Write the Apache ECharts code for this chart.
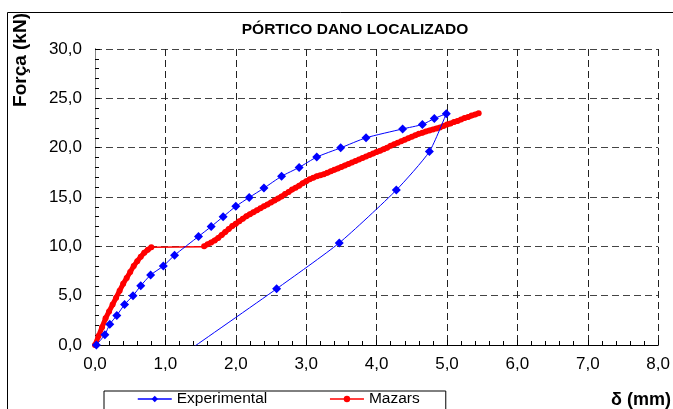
<!DOCTYPE html>
<html><head><meta charset="utf-8">
<script src="https://cdn.jsdelivr.net/npm/echarts@6/dist/echarts.min.js"></script>
<style>html,body{margin:0;padding:0;background:#fff}#c{width:673px;height:409px}</style>
</head><body><div id="c"></div>
<script>
// Experimental (loading + unloading)
const expX = [0.02,0.14,0.21,0.31,0.42,0.54,0.65,0.79,0.97,1.13,1.47,1.65,1.82,2.00,2.19,2.40,2.65,2.90,3.15,3.49,3.85,4.37,4.65,4.82,4.99,4.75,4.28,3.47,2.58,1.38];
const expY = [0.0,1.05,2.1,3.0,4.1,5.0,6.0,7.1,8.0,9.1,11.0,12.0,13.0,14.05,14.95,15.9,17.1,18.0,19.05,19.98,21.0,21.9,22.35,22.95,23.45,19.6,15.7,10.35,5.7,-0.3];
// Mazars: loading branch
const mzLoadX = [0.00,0.05,0.10,0.15,0.20,0.25,0.30,0.35,0.40,0.45,0.50,0.55,0.60,0.65,0.70,0.75,0.80];
const mzLoadY = [0.0,0.9,1.8,2.7,3.4,4.1,4.8,5.5,6.2,6.8,7.4,8.0,8.5,8.95,9.35,9.65,9.9];
// Mazars: plateau
const mzPlatX = [0.80,1.55];
const mzPlatY = [9.9,9.95];
// Mazars: post-plateau branch
const mzPostX = [1.55,1.60,1.65,1.70,1.75,1.80,1.85,1.90,1.95,2.00,2.05,2.10,2.15,2.20,2.25,2.30,2.35,2.40,2.45,2.50,2.55,2.60,2.65,2.70,2.75,2.80,2.85,2.90,2.95,3.00,3.05,3.10,3.15,3.20,3.25,3.30,3.35,3.40,3.45,3.50,3.55,3.60,3.65,3.70,3.75,3.80,3.85,3.90,3.95,4.00,4.05,4.10,4.15,4.20,4.25,4.30,4.35,4.40,4.45,4.50,4.55,4.60,4.65,4.70,4.75,4.80,4.85,4.90,4.95,5.00,5.05,5.10,5.15,5.20,5.25,5.30,5.35,5.40,5.45];
const mzPostY = [10.0,10.2,10.4,10.6,10.85,11.15,11.45,11.75,12.05,12.3,12.55,12.8,13.05,13.25,13.45,13.65,13.85,14.05,14.25,14.45,14.65,14.85,15.05,15.3,15.5,15.75,15.95,16.15,16.4,16.6,16.8,16.95,17.1,17.2,17.3,17.45,17.6,17.75,17.9,18.05,18.2,18.35,18.5,18.65,18.8,18.95,19.1,19.25,19.4,19.55,19.7,19.85,20.0,20.2,20.35,20.5,20.65,20.8,20.95,21.1,21.25,21.4,21.5,21.65,21.75,21.85,21.95,22.05,22.2,22.35,22.45,22.6,22.7,22.85,23.0,23.1,23.25,23.35,23.5];

const xMin = 0, xMax = 8, xStep = 1;
const yMin = 0, yMax = 30, yStep = 5;
const titleText = 'PÓRTICO DANO LOCALIZADO';
const yName = 'Força (kN)';
const xName = 'δ (mm)';

const zip = (a, b) => a.map((v, i) => [v, b[i]]);
const fmt = v => v.toFixed(1).replace('.', ',');
const FONT = 'Liberation Sans, Arial, sans-serif';
const RED = '#ff0000', BLUE = '#0000ff';

const chart = echarts.init(document.getElementById('c'), null, {renderer: 'canvas'});
chart.setOption({
  animation: false,
  backgroundColor: '#fff',
  title: {text: titleText, left: 350, top: 17, textAlign: 'center',
    textStyle: {fontFamily: FONT, fontSize: 15.5, fontWeight: 'bold', color: '#000'}},
  grid: {left: 95, right: 13, top: 49, bottom: 64, containLabel: false},
  legend: {
    left: 104, top: 391, orient: 'horizontal',
    borderColor: '#000', borderWidth: 1, padding: [0, 26, 20, 33],
    itemWidth: 34, itemHeight: 8, itemGap: 62,
    textStyle: {fontFamily: FONT, fontSize: 15.5, color: '#000'},
    data: [
      {name: 'Experimental', itemStyle: {color: BLUE}, lineStyle: {color: BLUE, width: 1.5}},
      {name: 'Mazars', itemStyle: {color: RED}, lineStyle: {color: RED, width: 1.5}}
    ]
  },
  xAxis: {
    type: 'value', min: xMin, max: xMax, interval: xStep,
    axisLine: {show: true, onZero: false, lineStyle: {color: '#000', width: 1}},
    axisTick: {show: true, inside: true, length: 5, lineStyle: {color: '#000'}},
    minorTick: {show: true, splitNumber: 5, length: 4, lineStyle: {color: '#000'}},
    axisLabel: {formatter: fmt, margin: 11, fontFamily: FONT, fontSize: 17, color: '#000'},
    splitLine: {show: true, lineStyle: {color: '#222', type: [7, 4], width: 1}}
  },
  yAxis: [{
    type: 'value', min: yMin, max: yMax, interval: yStep,
    axisLine: {show: true, onZero: false, lineStyle: {color: '#000', width: 1}},
    axisTick: {show: true, inside: true, length: 5, lineStyle: {color: '#000'}},
    minorTick: {show: true, splitNumber: 5, length: 4, lineStyle: {color: '#000'}},
    axisLabel: {formatter: fmt, margin: 13, fontFamily: FONT, fontSize: 17, color: '#000'},
    splitLine: {show: true, lineStyle: {color: '#444', type: [7, 4], width: 1}}
  }, {
    type: 'value', min: yMin, max: yMax, interval: yStep, position: 'right',
    axisLine: {show: true, lineStyle: {color: '#888', width: 1}},
    axisTick: {show: false}, axisLabel: {show: false}, splitLine: {show: false}
  }],
  graphic: [
    {type: 'line', shape: {x1: 7.5, y1: 12.5, x2: 673, y2: 12.5}, style: {stroke: '#000', lineWidth: 1}, silent: true},
    {type: 'line', shape: {x1: 7.5, y1: 12.5, x2: 7.5, y2: 409}, style: {stroke: '#000', lineWidth: 1}, silent: true},
    {type: 'text', x: 21, y: 60, rotation: Math.PI / 2,
      style: {text: yName, font: 'bold 19px ' + FONT, fill: '#000', textAlign: 'center', textVerticalAlign: 'middle'}},
    {type: 'text', x: 671, y: 400,
      style: {text: xName, font: 'bold 18px ' + FONT, fill: '#000', textAlign: 'right', textVerticalAlign: 'middle'}}
  ],
  series: [
    {name: 'Experimental', type: 'line', data: zip(expX, expY), smooth: 0.2,
      symbol: 'diamond', symbolSize: 9, showAllSymbol: true,
      lineStyle: {color: BLUE, width: 1}, itemStyle: {color: BLUE}, z: 3},
    {name: 'Mazars', type: 'line', data: zip(mzLoadX, mzLoadY), symbol: 'circle', symbolSize: 6, showAllSymbol: true,
      lineStyle: {color: RED, width: 5}, itemStyle: {color: RED}, z: 2},
    {name: 'Mazars', type: 'line', data: zip(mzPlatX, mzPlatY), symbol: 'none',
      lineStyle: {color: RED, width: 1.5}, itemStyle: {color: RED}, z: 2},
    {name: 'Mazars', type: 'line', data: zip(mzPostX, mzPostY), symbol: 'circle', symbolSize: 6, showAllSymbol: true,
      lineStyle: {color: RED, width: 5}, itemStyle: {color: RED}, z: 2}
  ]
});
</script></body></html>
